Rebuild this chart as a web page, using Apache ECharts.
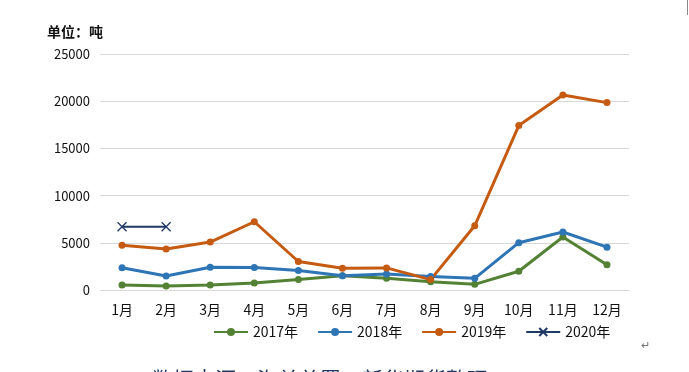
<!DOCTYPE html>
<html><head><meta charset="utf-8">
<script src="https://cdn.jsdelivr.net/npm/echarts@6/dist/echarts.min.js"></script>
<style>html,body{margin:0;padding:0;background:#fff}#c{width:689px;height:372px}</style>
</head><body><div id="c"></div>
<script>
const months = ['1月','2月','3月','4月','5月','6月','7月','8月','9月','10月','11月','12月'];
const s2017 = [530, 430, 530, 750, 1100, 1520, 1240, 880, 600, 1990, 5610, 2670];
const s2018 = [2350, 1490, 2420, 2380, 2060, 1520, 1700, 1420, 1240, 5010, 6140, 4540];
const s2019 = [4730, 4340, 5080, 7230, 3020, 2300, 2340, 1100, 6800, 17420, 20650, 19850];
const s2020 = [6700, 6700];
const seriesNames = ['2017年','2018年','2019年','2020年'];
const unitLabel = '单位：吨';
const caption = '数据来源：海关总署，新华期货整理';

const font = '"Noto Sans CJK SC", sans-serif';
const chart = echarts.init(document.getElementById('c'));
const xMark = 'path://M0,0L10,10M10,0L0,10';
function lineSeries(name, data, color) {
  return {
    name, type: 'line', data, symbol: 'circle', symbolSize: 7,
    lineStyle: { color, width: 3 }, itemStyle: { color },
    emphasis: { disabled: true }
  };
}
chart.setOption({
  animation: false,
  textStyle: { fontFamily: font },
  grid: { left: 100, right: 60, top: 54, bottom: 82 },
  xAxis: {
    type: 'category', data: months, boundaryGap: true,
    axisLine: { lineStyle: { color: '#d9d9d9' } },
    axisTick: { show: false },
    axisLabel: { color: '#111', fontSize: 14, margin: 13, fontFamily: font }
  },
  yAxis: {
    type: 'value', min: 0, max: 25000, interval: 5000,
    axisLine: { show: false }, axisTick: { show: false },
    splitLine: { lineStyle: { color: '#d9d9d9', width: 1 } },
    axisLabel: { color: '#111', fontSize: 13, margin: 10, fontFamily: font, formatter: v => String(v) }
  },
  legend: {
    left: 208, top: 320, itemWidth: 34, itemHeight: 10, itemGap: 19,
    textStyle: { color: '#111', fontSize: 14, fontFamily: font },
    data: seriesNames
  },
  graphic: [
    { type: 'text', left: 47, top: 25, style: { text: unitLabel, font: 'bold 14px ' + font, fill: '#111' } },
    { type: 'text', left: 152, top: 369, style: { text: caption, font: '21px ' + font, fill: '#1f3864' } },
    { type: 'text', left: 641, top: 339, style: { text: '↵', font: '11px ' + font, fill: '#777' } },
    { type: 'line', shape: { x1: 687.5, y1: 0, x2: 687.5, y2: 15 }, style: { stroke: '#888', lineWidth: 1 } }
  ],
  series: [
    lineSeries(seriesNames[0], s2017, '#548235'),
    lineSeries(seriesNames[1], s2018, '#2e75b6'),
    lineSeries(seriesNames[2], s2019, '#c55a11'),
    {
      name: seriesNames[3], type: 'line', data: s2020, symbol: xMark, symbolSize: 9,
      lineStyle: { color: '#1f3864', width: 2 },
      itemStyle: { color: 'none', borderColor: '#1f3864', borderWidth: 1.3 },
      emphasis: { disabled: true }
    }
  ]
});
</script></body></html>
